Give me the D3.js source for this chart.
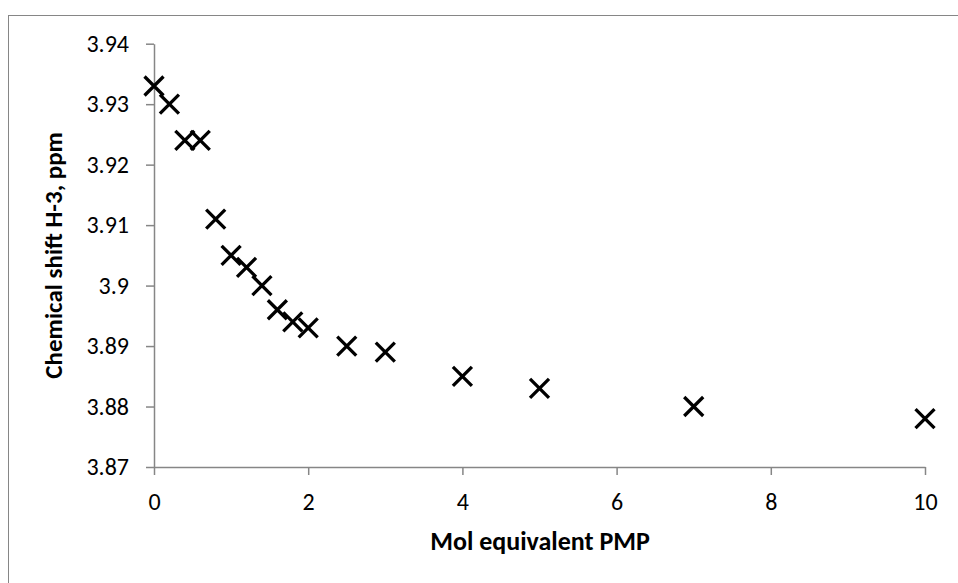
<!DOCTYPE html>
<html>
<head>
<meta charset="utf-8">
<script src="https://cdn.jsdelivr.net/npm/d3@7"></script>
<style>
  body { margin: 0; background: #fff; }
  svg text { font-family: Carlito, Calibri, Lato, sans-serif; fill: #000; }
</style>
</head>
<body>
<script>
// mol equivalent PMP vs chemical shift of H-3
var molEq = [0, 0.2, 0.4, 0.6, 0.8, 1.0, 1.2, 1.4, 1.6, 1.8, 2.0, 2.5, 3, 4, 5, 7, 10];
var shift = [3.933, 3.930, 3.924, 3.924, 3.911, 3.905, 3.903, 3.900, 3.896, 3.894, 3.893, 3.890, 3.889, 3.885, 3.883, 3.880, 3.878];
var xTicks = [0, 2, 4, 6, 8, 10];
var yTicks = [3.87, 3.88, 3.89, 3.9, 3.91, 3.92, 3.93, 3.94];

var width = 958;
var height = 583;
var axisColor = "#868686";

var svg = d3.select("body").append("svg")
    .attr("width", width)
    .attr("height", height);

// chart frame (runs off the right and bottom edge)
svg.append("rect")
    .attr("x", 8.5).attr("y", 15.5)
    .attr("width", 1000).attr("height", 1000)
    .attr("fill", "none")
    .attr("stroke", axisColor);

var x = d3.scaleLinear().domain([0, 10]).range([154, 925]);
var y = d3.scaleLinear().domain([3.87, 3.94]).range([467, 43.7]);

var xAxis = svg.append("g")
    .attr("transform", "translate(0," + y(3.87) + ")")
    .call(d3.axisBottom(x).tickValues(xTicks).tickSize(8).tickSizeOuter(0).tickPadding(12));

var yAxis = svg.append("g")
    .attr("transform", "translate(" + x(0) + ",0)")
    .call(d3.axisLeft(y).tickValues(yTicks).tickSize(8).tickSizeOuter(0).tickPadding(17)
      .tickFormat(function(d) { return String(+d.toFixed(2)); }));

[xAxis, yAxis].forEach(function(g) {
  g.select(".domain").attr("stroke", axisColor).attr("stroke-width", 1.5);
  g.selectAll(".tick line").attr("stroke", axisColor).attr("stroke-width", 1.5);
  g.selectAll(".tick text")
    .attr("font-family", "Carlito, Calibri, Lato, sans-serif")
    .attr("font-size", 24)
    .attr("fill", "#000");
});
xAxis.selectAll(".tick text").attr("dy", "0.95em");

// markers
var s = 9.5;
svg.append("g").selectAll("path")
    .data(molEq)
  .enter().append("path")
    .attr("d", function(d, i) {
      var cx = x(d), cy = y(shift[i]);
      return "M" + (cx - s) + "," + (cy - s) + "L" + (cx + s) + "," + (cy + s) +
             "M" + (cx - s) + "," + (cy + s) + "L" + (cx + s) + "," + (cy - s);
    })
    .attr("stroke", "#000")
    .attr("stroke-width", 3.3)
    .attr("fill", "none");

// axis titles
svg.append("text")
    .attr("x", 540).attr("y", 550)
    .attr("text-anchor", "middle")
    .attr("font-size", 26)
    .attr("font-weight", "bold")
    .text("Mol equivalent PMP");

svg.append("text")
    .attr("transform", "translate(62," + ((y(3.87) + y(3.94)) / 2) + ") rotate(-90)")
    .attr("text-anchor", "middle")
    .attr("font-size", 25)
    .attr("font-weight", "bold")
    .text("Chemical shift H-3, ppm");
</script>
</body>
</html>
